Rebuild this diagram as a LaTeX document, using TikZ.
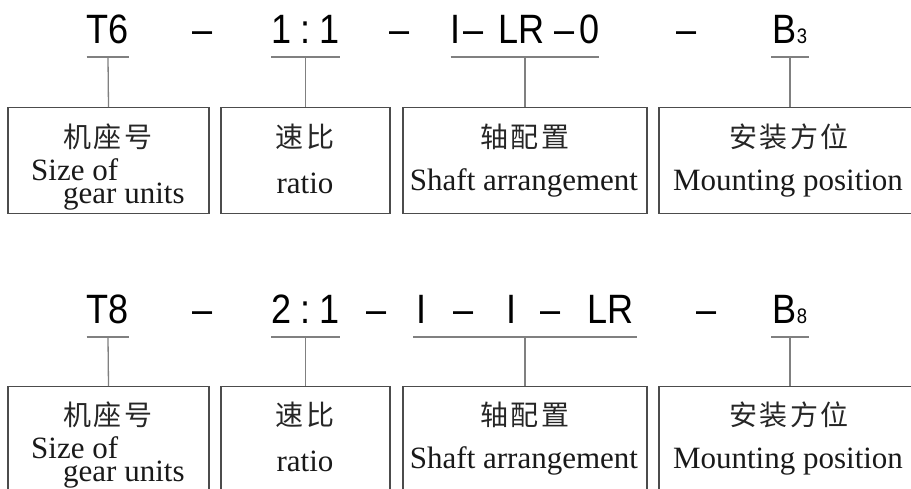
\documentclass[tikz,border=0pt]{standalone}
\usepackage{fontspec}
\setmainfont{Liberation Serif}
\newfontfamily\cjk[LetterSpace=8]{Noto Sans CJK SC}
\newfontfamily\codefont[FakeStretch=0.88]{Liberation Sans}

\begin{document}
\begin{tikzpicture}[x=1pt, y=-1pt,
  code/.style={inner sep=0pt, anchor=base, font=\codefont\fontsize{41}{41}\selectfont},
  boxed/.style={draw=black!70, line width=1.3pt, anchor=north, minimum height=106pt, inner sep=0pt},
  rule/.style={draw=black!50, line width=1.3pt},
  zh/.style={inner sep=0pt, font=\cjk\fontsize{28}{28}\selectfont, text=black!85},
  en/.style={inner sep=0pt, anchor=base, font=\fontsize{31}{31}\selectfont, text=black!90}]
\useasboundingbox (0,0) rectangle (911,488);
\clip (0,0) rectangle (911,488);
\fill[white] (0,0) rectangle (911,488);
\node[code, minimum width=38pt] (C1T) at (108,43) {T6};
\node[code] (C1D1) at (203,43) {–};
\node[code, minimum width=66pt] (C1R) at (305.5,43) {1\hspace{9pt}:\hspace{9pt}1};
\node[code] (C1D2) at (400,43) {–};
\node[code, minimum width=147pt] (C1S) at (525,43) {I\hspace{3pt}–\hspace{15pt}LR\hspace{9pt}–\hspace{5pt}0};
\node[code] (C1D3) at (687,43) {–};
\node[code, minimum width=37pt] (C1M) at (790,43) {B{\fontsize{21}{21}\selectfont 3}};
\node[boxed, minimum width=201pt] (B1T) at (108.5,107) {};
\node[boxed, minimum width=169pt] (B1R) at (305.5,107) {};
\node[boxed, minimum width=244pt] (B1S) at (525,107) {};
\node[boxed, minimum width=262pt] (B1M) at (790,107) {};
\node[zh] (Z1T) at (108,137) {机座号};
\node[en, anchor=base west] (E1T) at (31,180) {Size of};
\node[en, anchor=base west] (E1U) at (63,203) {gear units};
\node[zh] (Z1R) at (305,137) {速比};
\node[en] (E1R) at (305,193) {ratio};
\node[zh] (Z1S) at (525,137) {轴配置};
\node[en] (E1S) at (524,190) {Shaft arrangement};
\node[zh] (Z1M) at (789,137) {安装方位};
\node[en] (E1M) at (788,190) {Mounting position};
\draw[rule] ([yshift=-14pt]C1T.base west) -- coordinate (U1T) ([yshift=-14pt]C1T.base east);
\draw[rule] ([yshift=-14pt]C1R.base west) -- coordinate (U1R) ([yshift=-14pt]C1R.base east);
\draw[rule] ([yshift=-14pt]C1S.base west) -- coordinate (U1S) ([yshift=-14pt]C1S.base east);
\draw[rule] ([yshift=-14pt]C1M.base west) -- coordinate (U1M) ([yshift=-14pt]C1M.base east);
\draw[rule] (U1T) -- (B1T.north);
\draw[rule] (U1R) -- (B1R.north);
\draw[rule] (U1S) -- (B1S.north);
\draw[rule] (U1M) -- (B1M.north);
\node[code, minimum width=38pt] (C2T) at (108,323) {T8};
\node[code] (C2D1) at (203,323) {–};
\node[code, minimum width=66pt] (C2R) at (305.5,323) {2\hspace{9pt}:\hspace{9pt}1};
\node[code] (C2D2) at (377,323) {–};
\node[code, minimum width=223pt] (C2S) at (525,323) {I\hspace{27pt}–\hspace{33pt}I\hspace{24pt}–\hspace{27pt}LR};
\node[code] (C2D3) at (707,323) {–};
\node[code, minimum width=37pt] (C2M) at (790,323) {B{\fontsize{21}{21}\selectfont 8}};
\node[boxed, minimum width=201pt] (B2T) at (108.5,386) {};
\node[boxed, minimum width=169pt] (B2R) at (305.5,386) {};
\node[boxed, minimum width=244pt] (B2S) at (525,386) {};
\node[boxed, minimum width=262pt] (B2M) at (790,386) {};
\node[zh] (Z2T) at (108,415) {机座号};
\node[en, anchor=base west] (E2T) at (31,458) {Size of};
\node[en, anchor=base west] (E2U) at (63,481) {gear units};
\node[zh] (Z2R) at (305,415) {速比};
\node[en] (E2R) at (305,471) {ratio};
\node[zh] (Z2S) at (525,415) {轴配置};
\node[en] (E2S) at (524,468) {Shaft arrangement};
\node[zh] (Z2M) at (789,415) {安装方位};
\node[en] (E2M) at (788,468) {Mounting position};
\draw[rule] ([yshift=-14pt]C2T.base west) -- coordinate (U2T) ([yshift=-14pt]C2T.base east);
\draw[rule] ([yshift=-14pt]C2R.base west) -- coordinate (U2R) ([yshift=-14pt]C2R.base east);
\draw[rule] ([yshift=-14pt]C2S.base west) -- coordinate (U2S) ([yshift=-14pt]C2S.base east);
\draw[rule] ([yshift=-14pt]C2M.base west) -- coordinate (U2M) ([yshift=-14pt]C2M.base east);
\draw[rule] (U2T) -- (B2T.north);
\draw[rule] (U2R) -- (B2R.north);
\draw[rule] (U2S) -- (B2S.north);
\draw[rule] (U2M) -- (B2M.north);
\end{tikzpicture}
\end{document}
